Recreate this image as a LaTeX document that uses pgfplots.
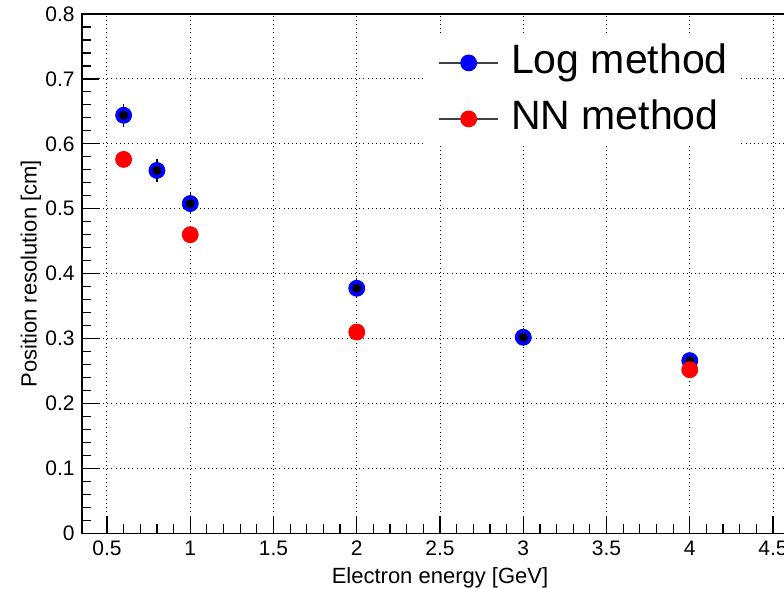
\documentclass[border=0pt]{standalone}
\usepackage{pgfplots}
\pgfplotsset{compat=1.18}
\usepackage{fontspec}
\setmainfont{Liberation Sans}
\definecolor{rootblue}{RGB}{0,0,255}
\definecolor{rootred}{RGB}{255,0,0}
\pgfplotstableread{
x y ey
0.6 0.644 0.010
0.8 0.559 0.0097
1.0 0.508 0.0088
2.0 0.3775 0.0077
3.0 0.302 0.0064
4.0 0.266 0.006
}\logdata
\pgfplotstableread{
x y
0.6 0.576
1.0 0.460
2.0 0.310
4.0 0.252
}\nndata
\begin{document}
\begin{tikzpicture}
\begin{axis}[
  name=ax,
  scale only axis,
  width=358pt, height=259.65pt,
  xmin=0.35, xmax=4.65, ymin=0, ymax=0.8,
  xtick={0.5,1,1.5,2,2.5,3,3.5,4,4.5},
  ytick={0,0.1,0.2,0.3,0.4,0.5,0.6,0.7,0.8},
  minor x tick num=4, minor y tick num=4,
  xtick pos=bottom, ytick pos=left,
  tick align=inside,
  major tick length=8.5pt, minor tick length=4.5pt,
  every tick/.style={black, line width=0.6pt},
  axis line style={black, line width=0.7pt},
  grid=major,
  major grid style={black, line width=0.5pt, dash pattern=on 0.5pt off 1.6pt},
  /pgf/number format/assume math mode=true,
  tick label style={font=\fontsize{10.5}{12}\selectfont, inner sep=0pt},
  xticklabel shift=3.5pt, yticklabel shift=3.5pt,
  xlabel={Electron energy [GeV]},
  ylabel={Position resolution [cm]},
  label style={font=\fontsize{11}{13}\selectfont, inner sep=0pt},
  xlabel style={at={(axis description cs:0.5,-0.0655)}, anchor=north},
  ylabel style={at={(axis description cs:-0.0712,0.5)}, anchor=center},
  legend style={
    at={(axis description cs:0.479,0.9576)}, anchor=north west,
    draw=none, fill=white, inner xsep=6.5pt, inner ysep=3.5pt,
    font=\fontsize{20.5}{24}\selectfont,
    row sep=8.5pt,
    nodes={inner sep=0pt, text height=15pt, text depth=4.5pt, anchor=west},
  },
  legend cell align=left,
]
\addplot[only marks, mark=*, mark size=4pt, color=rootblue,
  legend image code/.code={
    \path[draw=none, fill=none] (0pt,0pt) -- (36pt,0pt);
    \draw[black!75, line width=0.8pt] (0pt,0pt) -- (29.5pt,0pt);
    \fill[rootblue] (14.75pt,0pt) circle (4pt);}
  ] table[x=x, y=y] {\logdata};
\addlegendentry{Log method}
\addplot[forget plot, only marks, mark=none, black,
  error bars/.cd, y dir=both, y explicit,
  error bar style={draw=black, line width=0.6pt},
  error mark options={mark size=2.5pt, draw=black, line width=0.6pt}
  ] table[x=x, y=y, y error=ey] {\logdata};
\addplot[only marks, mark=*, mark size=4pt, color=rootred,
  legend image code/.code={
    \path[draw=none, fill=none] (0pt,0pt) -- (36pt,0pt);
    \draw[black!75, line width=0.8pt] (0pt,0pt) -- (29.5pt,0pt);
    \fill[rootred] (14.75pt,0pt) circle (4pt);}
  ] table[x=x, y=y] {\nndata};
\addlegendentry{NN method}
\end{axis}
\pgfresetboundingbox
\path ([shift={(-41pt,-27.35pt)}]ax.south west) rectangle ([shift={(-7pt,7pt)}]ax.north east);
\end{tikzpicture}
\end{document}
